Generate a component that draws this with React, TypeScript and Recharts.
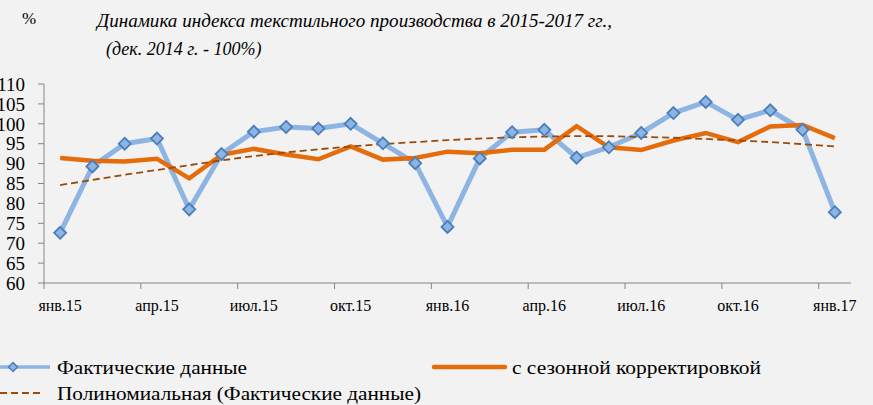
import React from "react";
import { Line, LineChart, XAxis, YAxis } from "recharts";

const months = [
  "янв.15", "фев.15", "мар.15", "апр.15", "май.15", "июн.15", "июл.15", "авг.15", "сен.15", "окт.15", "ноя.15", "дек.15",
  "янв.16", "фев.16", "мар.16", "апр.16", "май.16", "июн.16", "июл.16", "авг.16", "сен.16", "окт.16", "ноя.16", "дек.16",
  "янв.17",
];
const actual = [
  72.6, 89.3, 95.0, 96.3, 78.5, 92.4, 98.0, 99.2, 98.8, 100.0, 95.1, 90.1,
  74.1, 91.3, 97.9, 98.5, 91.5, 94.1, 97.7, 102.7, 105.5, 101.0, 103.4, 98.5,
  77.8,
];
const seasonal = [
  91.4, 90.7, 90.5, 91.2, 86.3, 92.2, 93.7, 92.3, 91.1, 94.3, 91.0, 91.4,
  93.0, 92.6, 93.5, 93.5, 99.4, 94.1, 93.4, 95.8, 97.7, 95.4, 99.3, 99.7,
  96.4,
];
const trend = [
  84.6, 85.9, 87.2, 88.4, 89.6, 90.8, 91.9, 92.8, 93.6, 94.3, 94.9, 95.4,
  95.9, 96.3, 96.6, 96.8, 96.9, 96.9, 96.7, 96.5, 96.2, 95.8, 95.4, 94.9,
  94.3,
];
const yTicks = [60, 65, 70, 75, 80, 85, 90, 95, 100, 105, 110];

const W = 873;
const H = 405;
const PLOT_LEFT = 44;
const PLOT_RIGHT = 851;
const BAND = (PLOT_RIGHT - PLOT_LEFT) / months.length;
// Liberation Serif has no Cyrillic here, so Cyrillic falls through to DejaVu Serif
const SERIF = "Liberation Serif, DejaVu Serif, serif";
const AXIS = "#868686";
const BLUE = "#8db4e2";
const BLUE_EDGE = "#4a7ebb";
const ORANGE = "#e46c0a";
const TREND = "#9c4a0a";

const data = months.map((m, i) => ({
  month: m,
  actual: actual[i],
  seasonal: seasonal[i],
  trend: trend[i],
}));

function MonthTick(props: any) {
  const { x, y, payload } = props;
  const axisY = y - 8;
  const tx = x - BAND / 2;
  return (
    <g>
      <line x1={tx} x2={tx} y1={axisY} y2={axisY + 6} stroke={AXIS} />
      <text x={x} y={y + 20} textAnchor="middle" fontSize={16} fontFamily={SERIF} fill="#000">
        {payload.value}
      </text>
    </g>
  );
}

function Diamond(props: any) {
  const { cx, cy } = props;
  if (cx == null || cy == null) return <g />;
  const r = 6;
  return (
    <polygon
      points={`${cx},${cy - r} ${cx + r},${cy} ${cx},${cy + r} ${cx - r},${cy}`}
      fill={BLUE}
      stroke={BLUE_EDGE}
      strokeWidth={1.8}
    />
  );
}

function FitText({ x, y, w, size, italic, children }: { x: number; y: number; w?: number; size: number; italic?: boolean; children: string }) {
  return (
    <text
      x={x}
      y={y}
      fontSize={size}
      fontFamily={SERIF}
      fontStyle={italic ? "italic" : "normal"}
      fill="#000"
      textLength={w}
      lengthAdjust={w ? "spacingAndGlyphs" : undefined}
    >
      {children}
    </text>
  );
}

function LegendOverlay() {
  const d = 4.5;
  return (
    <svg width={W} height={H} style={{ position: "absolute", left: 0, top: 0, pointerEvents: "none" }}>
      <line x1={-12} x2={50} y1={367} y2={367} stroke={BLUE} strokeWidth={3.5} />
      <polygon
        points={`13,${367 - d} ${13 + d},367 13,${367 + d} ${13 - d},367`}
        fill={BLUE}
        stroke={BLUE_EDGE}
        strokeWidth={1.5}
      />
      <FitText x={57} y={374} w={190} size={19}>Фактические данные</FitText>
      <line x1={434} x2={505} y1={367} y2={367} stroke={ORANGE} strokeWidth={4.5} strokeLinecap="round" />
      <FitText x={512} y={374} w={249} size={19}>с сезонной корректировкой</FitText>
      <line x1={0} x2={42} y1={393} y2={393} stroke={TREND} strokeWidth={1.8} strokeDasharray="7 4" />
      <FitText x={57} y={400} w={364} size={19}>Полиномиальная (Фактические данные)</FitText>
    </svg>
  );
}

export default function App() {
  return (
    <div
      style={{
        position: "absolute",
        left: 0,
        top: 0,
        width: W,
        height: H,
        background: "#f2f2f2",
        overflow: "hidden",
        fontFamily: SERIF,
      }}
    >
      <svg width={W} height={70} style={{ position: "absolute", left: 0, top: 0 }}>
        <text x={22} y={24} fontSize={17} fontFamily={SERIF} fill="#000">
          %
        </text>
        <FitText x={97} y={27} w={515} size={19} italic>
          Динамика индекса текстильного производства в 2015-2017 гг.,
        </FitText>
        <FitText x={106} y={54.5} size={18} italic>
          (дек. 2014 г. - 100%)
        </FitText>
      </svg>
      <LineChart width={W} height={H} data={data} margin={{ top: 84, right: W - PLOT_RIGHT, bottom: 82, left: 0 }}>
        <XAxis
          dataKey="month"
          scale="band"
          interval={2}
          height={40}
          tickLine={false}
          axisLine={{ stroke: AXIS }}
          tick={<MonthTick />}
        />
        <YAxis
          width={PLOT_LEFT}
          domain={[60, 110]}
          ticks={yTicks}
          interval={0}
          tickSize={6}
          tickMargin={13}
          axisLine={{ stroke: AXIS }}
          tickLine={{ stroke: AXIS }}
          tick={{ fill: "#000", fontSize: 19, fontFamily: SERIF }}
        />
        <Line
          dataKey="actual"
          stroke={BLUE}
          strokeWidth={5}
          dot={(p: any) => <Diamond key={p.index} {...p} />}
          activeDot={false}
          isAnimationActive={false}
        />
        <Line
          dataKey="seasonal"
          stroke={ORANGE}
          strokeWidth={4.5}
          dot={false}
          activeDot={false}
          isAnimationActive={false}
        />
        <Line
          dataKey="trend"
          stroke={TREND}
          strokeWidth={1.8}
          strokeDasharray="7 4"
          dot={false}
          activeDot={false}
          isAnimationActive={false}
        />
      </LineChart>
      <LegendOverlay />
    </div>
  );
}
